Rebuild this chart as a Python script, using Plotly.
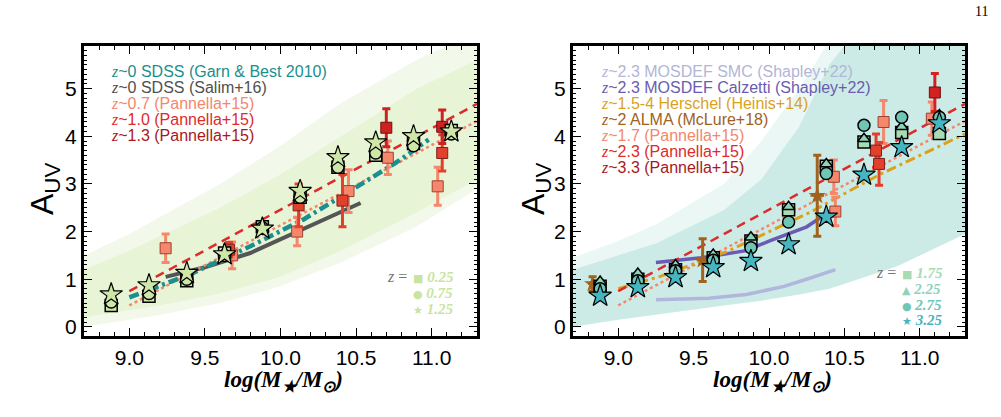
import plotly.graph_objects as go

# ---------------- data ----------------
mass_bins = [8.88, 9.13, 9.38, 9.63, 9.88, 10.13, 10.38, 10.63, 10.88, 11.13]

# left panel: z = 0.25 / 0.75 / 1.25
left_sq = [0.45, 0.64, 0.97, 1.55, 2.10, 2.72, 3.35, 3.60, 3.85, 4.12]
left_ci = [0.52, 0.70, 1.00, 1.50, 2.08, 2.72, 3.35, 3.65, 3.80, 4.05]
left_st = [0.68, 0.87, 1.13, 1.52, 2.06, 2.85, 3.56, 3.87, 4.00, 4.10]

# right panel: z = 1.75 / 2.25 / 2.75 / 3.25
right_sq = [0.85, 1.00, 1.20, 1.45, 1.80, 2.46, 3.37, 3.88, 4.08, 4.06]
right_tr = [0.95, 1.12, 1.30, 1.52, 1.88, 2.52, 3.42, 3.95, 4.20, 4.45]
right_ci = [0.80, 0.97, 1.18, 1.40, 1.66, 2.20, 3.22, 4.23, 4.40, 4.40]
right_st = [0.65, 0.83, 1.04, 1.25, 1.38, 1.73, 2.31, 3.19, 3.77, 4.27]

# scatter bands (mass, upper, lower)
lband_x = [8.7, 9.0, 9.2, 9.6, 10.0, 10.4, 10.9, 11.3]
lband_up_outer = [1.5, 1.95, 2.3, 3.0, 3.8, 4.7, 5.6, 6.2]
lband_up_inner = [1.2, 1.6, 1.9, 2.5, 3.2, 4.0, 5.0, 5.6]
lband_lo_outer = [0.0, 0.15, 0.25, 0.5, 0.85, 1.35, 2.1, 2.9]
lband_lo_inner = [0.2, 0.35, 0.45, 0.7, 1.05, 1.6, 2.4, 3.1]

rband_x = [8.7, 9.0, 9.25, 9.7, 9.95, 10.2, 10.4, 10.5, 10.85, 11.3]
rband_up_outer = [1.45, 1.8, 2.15, 3.0, 3.9, 5.0, 6.0, 6.2, 6.5, 6.6]
rband_up_inner = [1.2, 1.5, 1.75, 2.45, 3.1, 4.2, 5.5, 5.9, 6.3, 6.5]
rband_lo = [0.0, 0.15, 0.25, 0.45, 0.55, 0.68, 0.8, 0.9, 1.27, 1.95]

# relations, left panel
garn_x = [9.0, 9.4, 9.8, 10.15, 10.46, 10.79, 10.98]
garn_y = [0.62, 1.1, 1.69, 2.25, 2.85, 3.50, 3.93]
salim_x = [9.24, 9.5, 9.8, 10.06, 10.3, 10.53]
salim_y = [1.05, 1.25, 1.55, 1.92, 2.25, 2.60]
pan_dash_x = [9.0, 11.3]
pan_dash_y = [0.75, 4.68]
pan_dot_x = [9.0, 11.3]
pan_dot_y = [0.45, 4.32]

# relations, right panel
smc_x = [9.25, 9.6, 9.85, 10.1, 10.27, 10.44]
smc_y = [0.57, 0.60, 0.68, 0.85, 1.02, 1.20]
calz_x = [9.25, 9.55, 9.85, 10.0, 10.25, 10.44]
calz_y = [1.35, 1.45, 1.60, 1.80, 2.10, 2.50]
heinis_x = [9.0, 9.28, 9.72, 10.27, 10.73, 11.3]
heinis_y = [0.80, 1.06, 1.58, 2.40, 3.19, 4.05]

# Pannella+15 points, left panel
pl07_x = [9.24, 9.68, 10.11, 10.45, 10.71, 11.04]
pl07_y = [1.65, 1.50, 2.00, 2.85, 3.55, 2.95]
pl07_e = [0.30, 0.28, 0.30, 0.45, 0.35, 0.40]
pl10_x = [9.66, 10.12, 10.41, 11.07]
pl10_y = [1.62, 2.55, 2.65, 3.65]
pl10_e = [0.15, 0.45, 0.55, 0.38]
pl13_x = [10.70, 11.07]
pl13_y = [4.18, 4.20]
pl13_e = [0.40, 0.35]

# Pannella+15 points, right panel
pr17_x = [10.43, 10.44, 10.76, 11.08]
pr17_y = [3.15, 2.42, 4.30, 4.37]
pr17_e = [0.35, 0.30, 0.45, 0.35]
pr23_x = [10.71, 10.73]
pr23_y = [3.70, 3.42]
pr23_e = [0.35, 0.45]
pr33_x = [11.10]
pr33_y = [4.92]
pr33_e = [0.40]

# ALMA McLure+18
alma_x = [8.83, 9.56, 10.32]
alma_y = [0.90, 1.40, 2.75]
alma_e = [0.15, 0.45, 0.85]
alma_xe = [0.03, 0.04, 0.045]

left_legend = [
    ("z~0 SDSS (Garn & Best 2010)", "#1a8f8f"),
    ("z~0 SDSS (Salim+16)", "#505050"),
    ("z~0.7 (Pannella+15)", "#f4876c"),
    ("z~1.0 (Pannella+15)", "#e02a2a"),
    ("z~1.3 (Pannella+15)", "#a8181c"),
]
right_legend = [
    ("z~2.3 MOSDEF SMC (Shapley+22)", "#b2b6d8"),
    ("z~2.3 MOSDEF Calzetti (Shapley+22)", "#6a5cb0"),
    ("z~1.5-4 Herschel (Heinis+14)", "#d9a21e"),
    ("z~2 ALMA (McLure+18)", "#a0621c"),
    ("z~1.7 (Pannella+15)", "#f4876c"),
    ("z~2.3 (Pannella+15)", "#e02a2a"),
    ("z~3.3 (Pannella+15)", "#a8181c"),
]
left_zlab = [("■", "0.25"), ("●", "0.75"), ("★", "1.25")]
right_zlab = [("■", "1.75", "#a6dbb3"), ("▲", "2.25", "#8fd3bb"),
              ("●", "2.75", "#6fc6b6"), ("★", "3.25", "#45b5bf")]

xticks = [9.0, 9.5, 10.0, 10.5, 11.0]
xticktext = ["9.0", "9.5", "10.0", "10.5", "11.0"]

# ---------------- figure ----------------
W, H = 1001, 417
fig = go.Figure()


def band(xs, up, lo, color, xa, ya):
    fig.add_trace(go.Scatter(x=xs + xs[::-1], y=up + lo[::-1], fill="toself",
                             fillcolor=color, line=dict(width=0), mode="lines",
                             hoverinfo="skip", showlegend=False, xaxis=xa, yaxis=ya))


def line(xs, ys, color, width, dash, xa, ya):
    fig.add_trace(go.Scatter(x=xs, y=ys, mode="lines", line=dict(color=color, width=width, dash=dash),
                             showlegend=False, xaxis=xa, yaxis=ya))


def pts(xs, ys, symbol, size, color, xa, ya, lc="black", lw=1.5, err=None, errx=None, ecol=None):
    kw = {}
    if err is not None:
        kw["error_y"] = dict(type="data", array=err, color=ecol or color, thickness=3, width=4)
    if errx is not None:
        kw["error_x"] = dict(type="data", array=errx, color=ecol or color, thickness=2, width=0)
    fig.add_trace(go.Scatter(x=xs, y=ys, mode="markers",
                             marker=dict(symbol=symbol, size=size, color=color,
                                         line=dict(color=lc, width=lw)),
                             showlegend=False, xaxis=xa, yaxis=ya, cliponaxis=False, **kw))


# left panel
band(lband_x, lband_up_outer, lband_lo_outer, "rgba(215,236,185,0.30)", "x", "y")
band(lband_x, lband_up_inner, lband_lo_inner, "rgba(205,232,170,0.30)", "x", "y")
line(salim_x, salim_y, "#555555", 4, "solid", "x", "y")
line(pan_dot_x, pan_dot_y, "#f4876c", 2.5, "dot", "x", "y")
line(pan_dash_x, pan_dash_y, "#dd2a2a", 2.5, "9px,6px", "x", "y")
line(garn_x, garn_y, "#1a8f8f", 4.5, "10px,4px,3px,4px", "x", "y")
pts(pl07_x, pl07_y, "square", 11, "#f4876c", "x", "y", lc="#a04030", lw=1, err=pl07_e)
pts(pl10_x, pl10_y, "square", 11, "#e0402c", "x", "y", lc="#802018", lw=1, err=pl10_e)
pts(pl13_x, pl13_y, "square", 11, "#d02020", "x", "y", lc="#701010", lw=1, err=pl13_e)
pts(mass_bins, left_sq, "square", 12, "#cfe6a9", "x", "y")
pts(mass_bins, left_ci, "circle", 12, "#cfe6a9", "x", "y")
pts(mass_bins, left_st, "star", 17, "#cfe6a9", "x", "y", lw=1.2)

# right panel
band(rband_x, rband_up_outer, rband_lo, "rgba(170,222,214,0.25)", "x2", "y2")
band(rband_x, rband_up_inner, rband_lo, "rgba(140,212,202,0.32)", "x2", "y2")
line(smc_x, smc_y, "#b2b6dc", 3.5, "solid", "x2", "y2")
line(calz_x, calz_y, "#6a5cb4", 3.5, "solid", "x2", "y2")
line(pan_dot_x, pan_dot_y, "#f4876c", 2.5, "dot", "x2", "y2")
line(heinis_x, heinis_y, "#d9a21e", 3, "10px,4px,3px,4px", "x2", "y2")
line(pan_dash_x, pan_dash_y, "#dd2a2a", 2.5, "9px,6px", "x2", "y2")
pts(alma_x, alma_y, "star", 13, "#a0621c", "x2", "y2", lc="#a0621c", lw=0, err=alma_e, errx=alma_xe)
pts(pr17_x, pr17_y, "square", 11, "#f4876c", "x2", "y2", lc="#a04030", lw=1, err=pr17_e)
pts(pr23_x, pr23_y, "square", 11, "#e0402c", "x2", "y2", lc="#802018", lw=1, err=pr23_e)
pts(pr33_x, pr33_y, "square", 11, "#d42020", "x2", "y2", lc="#701010", lw=1, err=pr33_e)
pts(mass_bins, right_sq, "square", 12, "#a6dbb3", "x2", "y2")
pts(mass_bins, right_tr, "triangle-up", 11, "#8fd3bb", "x2", "y2")
pts(mass_bins, right_ci, "circle", 12, "#6fc6b6", "x2", "y2")
pts(mass_bins, right_st, "star", 17, "#45b5bf", "x2", "y2", lw=1.2)


def px(x):
    return x / W


def py(y):
    return 1 - y / H


axis_common = dict(showline=True, linewidth=3, linecolor="black", mirror="allticks",
                   ticks="inside", ticklen=8, tickwidth=1.3, tickcolor="black",
                   showgrid=False, zeroline=False,
                   tickfont=dict(family="Liberation Sans, Arial, sans-serif", size=21, color="black"))
xa = dict(axis_common, range=[8.7, 11.3], tickvals=xticks, ticktext=xticktext,
          minor=dict(ticks="inside", ticklen=4, dtick=0.1, tick0=0, tickcolor="black"))
ya = dict(axis_common, range=[-0.2, 5.9], dtick=1, tick0=0,
          minor=dict(ticks="inside", ticklen=3, dtick=0.1, tick0=0, tickcolor="black"))

y0, y1 = py(338), py(46)
fig.update_layout(
    width=W, height=H, margin=dict(l=0, r=0, t=0, b=0),
    paper_bgcolor="white", plot_bgcolor="white", showlegend=False,
    xaxis=dict(xa, domain=[px(84), px(477)], anchor="y"),
    yaxis=dict(ya, domain=[y0, y1], anchor="x"),
    xaxis2=dict(xa, domain=[px(573), px(965)], anchor="y2"),
    yaxis2=dict(ya, domain=[y0, y1], anchor="x2"),
)

ann = []
zspan = '<span style="font-family:Liberation Serif;font-style:italic">z</span>'
for i, (t, c) in enumerate(left_legend):
    ann.append(dict(x=px(109), y=py(72 + 16 * i), text=zspan + t[1:], font=dict(color=c)))
for i, (t, c) in enumerate(right_legend):
    ann.append(dict(x=px(599), y=py(72 + 16.1 * i), text=zspan + t[1:], font=dict(color=c)))
for a in ann:
    a.update(xref="paper", yref="paper", xanchor="left", yanchor="middle", showarrow=False)
    a["font"].update(family="Liberation Sans, Arial, sans-serif", size=16)

serif = "Liberation Serif, Times New Roman, serif"
# marker key, left
ann.append(dict(x=px(409), y=py(278), text="<i>z</i> =", xanchor="right", yanchor="middle",
                font=dict(family=serif, size=16, color="#707878")))
for i, (s, v) in enumerate(left_zlab):
    ann.append(dict(x=px(411), y=py(278 + 16 * i),
                    text=f'<span style="font-family:DejaVu Sans;font-size:11px">{s}</span> <b><i>{v}</i></b>',
                    xanchor="left", yanchor="middle", font=dict(family=serif, size=15, color="#c8e4a0")))
# marker key, right
ann.append(dict(x=px(898), y=py(274), text="<i>z</i> =", xanchor="right", yanchor="middle",
                font=dict(family=serif, size=16, color="#707878")))
for i, (s, v, c) in enumerate(right_zlab):
    ann.append(dict(x=px(900), y=py(274 + 16 * i),
                    text=f'<span style="font-family:DejaVu Sans;font-size:11px">{s}</span> <b><i>{v}</i></b>',
                    xanchor="left", yanchor="middle", font=dict(family=serif, size=15, color=c)))

# axis titles
for cx in (44, 535):
    ann.append(dict(x=px(cx), y=py(190), text="A<sub>UV</sub>", textangle=-90,
                    xanchor="center", yanchor="middle",
                    font=dict(family="Liberation Sans, Arial, sans-serif", size=32, color="black")))
for cx in (283, 772):
    ann.append(dict(x=px(cx), y=py(383), text="<b><i>log(M<sub>★</sub>/M<sub>⊙</sub>)</i></b>",
                    xanchor="center", yanchor="middle",
                    font=dict(family=serif, size=23, color="black")))
# page number
ann.append(dict(x=px(990), y=py(12), text="11", xanchor="right", yanchor="middle",
                font=dict(family=serif, size=14, color="black")))

for a in ann:
    a.setdefault("xref", "paper")
    a.setdefault("yref", "paper")
    a.setdefault("showarrow", False)
fig.update_layout(annotations=ann)

fig.write_html("out.html")
